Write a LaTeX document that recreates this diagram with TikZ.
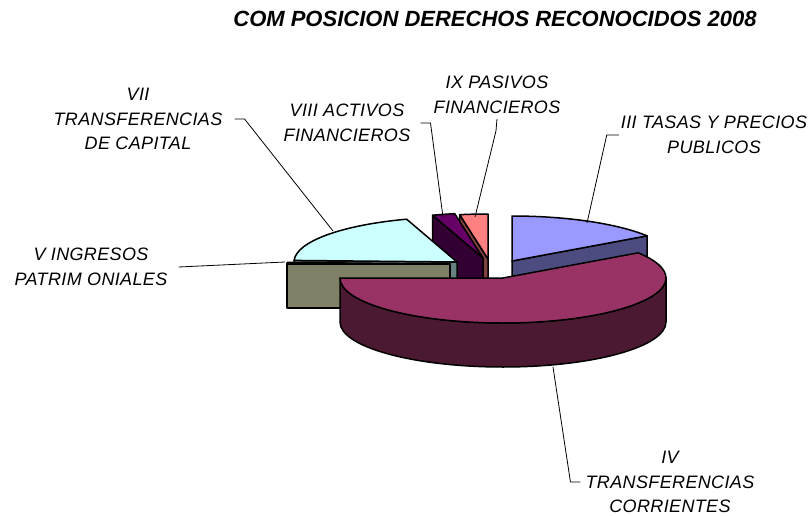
\documentclass[tikz,border=0pt]{standalone}
\usepackage{fontspec}
\setmainfont{Liberation Sans}
\newfontfamily\labelfont[LetterSpace=2]{Liberation Sans}
\usetikzlibrary{calc}

% slice colours, top face and cut face
\definecolor{tasasTop}{HTML}{9999FF}
\definecolor{tasasSide}{HTML}{4C4C80}
\definecolor{corrTop}{HTML}{993366}
\definecolor{corrSide}{HTML}{4C1933}
\definecolor{patrTop}{HTML}{FFFFCC}
\definecolor{patrSide}{HTML}{808066}
\definecolor{capTop}{HTML}{CCFFFF}
\definecolor{capSide}{HTML}{668080}
\definecolor{activTop}{HTML}{660066}
\definecolor{activSide}{HTML}{330033}
\definecolor{pasivTop}{HTML}{FF8080}
\definecolor{pasivSide}{HTML}{804040}

\begin{document}
\begin{tikzpicture}[x=1pt, y=1pt,
	slice/.style={line width=1.5pt, line join=round},
	leader/.style={line width=0.8pt},
	pielabel/.style={font=\labelfont\itshape\fontsize{18}{24.5}\selectfont, align=center, inner sep=2pt}]

	\useasboundingbox (0,0) rectangle (811,-516);

	% title
	\node [font=\bfseries\itshape\fontsize{22}{26}\selectfont] (title) at (495,-19) {COM POSICION DERECHOS RECONOCIDOS 2008};

	% pie dimensions
	\def \pieRx {163};
	\def \pieRy {45};
	\def \pieDepth {44};

	% slice apexes (exploded)
	\coordinate (tasasApex) at (512,-261);
	\coordinate (corrApex) at (503,-278);
	\coordinate (patrApex) at (450,-264);
	\coordinate (capApex) at (457,-262);
	\coordinate (activApex) at (483,-258);
	\coordinate (pasivApex) at (488,-259);

	% IX pasivos financieros
	\filldraw [slice, fill=pasivSide] (pasivApex) -- ++(100:{\pieRx} and {\pieRy}) -- ++(0,-\pieDepth) -- ($(pasivApex)+(0,-\pieDepth)$) -- cycle;
	\filldraw [slice, fill=pasivTop] (pasivApex) -- ++(90:{\pieRx} and {\pieRy}) arc [start angle=90, end angle=100, x radius=\pieRx, y radius=\pieRy] -- cycle;

	% VIII activos financieros
	\filldraw [slice, fill=activSide] (activApex) -- ++(108:{\pieRx} and {\pieRy}) -- ++(0,-\pieDepth) -- ($(activApex)+(0,-\pieDepth)$) -- cycle;
	\filldraw [slice, fill=activTop] (activApex) -- ++(100:{\pieRx} and {\pieRy}) arc [start angle=100, end angle=108, x radius=\pieRx, y radius=\pieRy] -- cycle;

	% III tasas y precios publicos
	\filldraw [slice, fill=tasasSide] (tasasApex) -- ++(34:{\pieRx} and {\pieRy}) -- ++(0,-\pieDepth) -- ($(tasasApex)+(0,-\pieDepth)$) -- cycle;
	\filldraw [slice, fill=tasasTop] (tasasApex) -- ++(34:{\pieRx} and {\pieRy}) arc [start angle=34, end angle=90, x radius=\pieRx, y radius=\pieRy] -- cycle;

	% VII transferencias de capital
	\filldraw [slice, fill=capSide] (capApex) -- ++(178:{\pieRx} and {\pieRy}) -- ++(0,-\pieDepth) -- ($(capApex)+(0,-\pieDepth)$) -- cycle;
	\filldraw [slice, fill=capTop] (capApex) -- ++(108:{\pieRx} and {\pieRy}) arc [start angle=108, end angle=178, x radius=\pieRx, y radius=\pieRy] -- cycle;

	% V ingresos patrimoniales
	\filldraw [slice, fill=patrSide] (patrApex) -- ++(180:{\pieRx} and {\pieRy}) -- ++(0,-\pieDepth) -- ($(patrApex)+(0,-\pieDepth)$) -- cycle;
	\filldraw [slice, fill=patrTop] (patrApex) -- ++(178:{\pieRx} and {\pieRy}) arc [start angle=178, end angle=180, x radius=\pieRx, y radius=\pieRy] -- cycle;

	% IV transferencias corrientes, in front
	\filldraw [slice, fill=corrSide] (corrApex) ++(180:{\pieRx} and {\pieRy}) arc [start angle=180, end angle=360, x radius=\pieRx, y radius=\pieRy] -- ++(0,-\pieDepth) arc [start angle=360, end angle=180, x radius=\pieRx, y radius=\pieRy] -- cycle;
	\filldraw [slice, fill=corrTop] (corrApex) -- ++(180:{\pieRx} and {\pieRy}) arc [start angle=180, end angle=394, x radius=\pieRx, y radius=\pieRy] -- cycle;

	% leader ends on the slices
	\coordinate (capPin) at (333,-231);
	\coordinate (activPin) at (443,-217);
	\coordinate (pasivPin) at (475,-217);
	\coordinate (tasasPin) at (587,-223);
	\coordinate (patrPin) at (285,-262);
	\coordinate (corrPin) at (553,-367);

	% labels
	\node [pielabel, inner xsep=12pt] (capLabel) at (138,-119) {VII\\TRANSFERENCIAS\\DE CAPITAL};
	\node [pielabel, inner xsep=10pt] (activLabel) at (347,-123) {VIII ACTIVOS\\FINANCIEROS};
	\node [pielabel, inner ysep=5pt] (pasivLabel) at (497,-95) {IX PASIVOS\\FINANCIEROS};
	\node [pielabel] (tasasLabel) at (714,-135) {III TASAS Y PRECIOS\\PUBLICOS};
	\node [pielabel, inner xsep=11pt] (patrLabel) at (91,-267) {V INGRESOS\\PATRIM ONIALES};
	\node [pielabel, inner xsep=5pt] (corrLabel) at (670,-482) {IV\\TRANSFERENCIAS\\CORRIENTES};

	% leaders
	\draw [leader] (capLabel.east) -- ++(10,0) -- (capPin);
	\draw [leader] (activLabel.east) -- ++(10,0) -- (activPin);
	\draw [leader] (pasivLabel.south) -- ++(-1,-12) -- (pasivPin);
	\draw [leader] (tasasLabel.west) -- ++(-12,0) -- (tasasPin);
	\draw [leader] (patrLabel.east) -- (patrPin);
	\draw [leader] (corrLabel.west) -- ++(-10,0) -- (corrPin);

\end{tikzpicture}
\end{document}
